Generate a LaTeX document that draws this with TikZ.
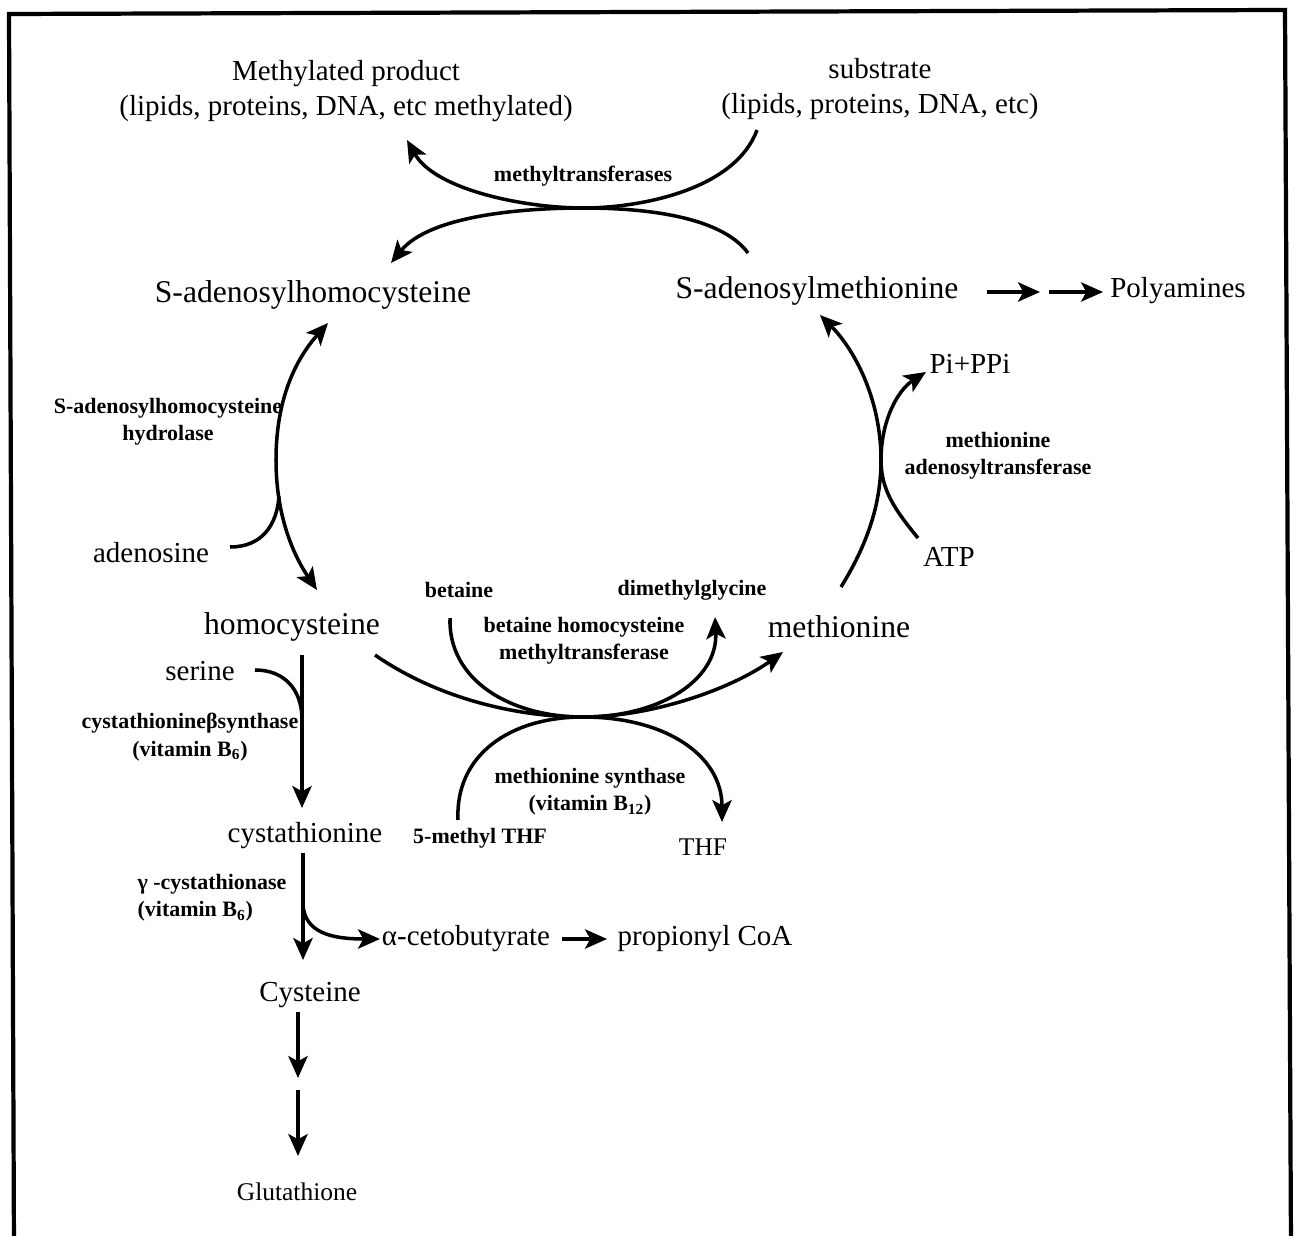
\documentclass[tikz,border=0pt]{standalone}
\usepackage{fontspec}
\setmainfont{Liberation Serif}
\usetikzlibrary{arrows.meta, positioning}

\tikzset{
  bigtext/.style={font=\fontsize{18}{21}\selectfont},
  midtext/.style={font=\fontsize{16.5}{19.5}\selectfont, align=center},
  smalltext/.style={font=\fontsize{14.5}{17}\selectfont},
  enztext/.style={font=\fontsize{12.5}{15.5}\selectfont\bfseries, align=center},
  tip/.style={Stealth[length=12.5pt, width=11pt, inset=3pt]},
  flow/.style={line width=2pt, -{Stealth[length=12.5pt, width=11pt, inset=3pt]}},
  bothway/.style={line width=2pt, {Stealth[length=12.5pt, width=11pt, inset=3pt]}-{Stealth[length=12.5pt, width=11pt, inset=3pt]}},
  plain/.style={line width=2pt}
}

\begin{document}
\begin{tikzpicture}[x=0.02cm, y=-0.02cm]
  \useasboundingbox (0,0) rectangle (1297,1236);
  \draw[line width=2.4pt] (14,1250) -- (9,14) -- (1285,10) -- (1291,1250);

  % methylation at the top
  \node[midtext] (methprod) at (346,91) {Methylated product\\(lipids, proteins, DNA, etc methylated)};
  \node[midtext] (substrate) at (880,89) {substrate\\(lipids, proteins, DNA, etc)};
  \node[enztext] (mtase) at (583,176) {methyltransferases};
  \node[bigtext] (sah) at (313,295) {S-adenosylhomocysteine};
  \node[bigtext] (sam) at (817,291) {S-adenosylmethionine};
  \node[midtext] (polyam) at (1178,291) {Polyamines};

  \node[midtext] (pippi) at (970,364) {Pi+PPi};
  \node[enztext] (mat) at (998,456) {methionine\\adenosyltransferase};
  \node[midtext] (atp) at (949,557) {ATP};
  \node[enztext] (sahh) at (168,422) {S-adenosylhomocysteine\\hydrolase};
  \node[midtext] (ado) at (151,553) {adenosine};

  \node[bigtext] (hcy) at (292,627) {homocysteine};
  \node[enztext] (betaine) at (459,590) {betaine};
  \node[enztext] (dmg) at (692,590) {dimethylglycine};
  \node[enztext] (bhmt) at (584,641) {betaine homocysteine\\methyltransferase};
  \node[bigtext] (met) at (839,627) {methionine};
  \node[enztext] (ms) at (590,792) {methionine synthase\\(vitamin B\textsubscript{12})};
  \node[enztext] (mthf) at (480,838) {5-methyl THF};
  \node[smalltext] (thf) at (703,847) {THF};

  % transsulfuration branch
  \node[midtext] (serine) at (200,671) {serine};
  \node[enztext] (cbs) at (190,737) {cystathionineβsynthase\\(vitamin B\textsubscript{6})};
  \node[midtext] (cysta) at (305,836) {cystathionine};
  \node[enztext, align=left] (cgl) at (212,898) {γ -cystathionase\\(vitamin B\textsubscript{6})};
  \node[midtext] (akb) at (466,939) {α-cetobutyrate};
  \node[midtext] (pcoa) at (705,939) {propionyl CoA};
  \node[midtext] (cys) at (310,995) {Cysteine};
  \node[smalltext] (gsh) at (297,1192) {Glutathione};

  \coordinate (kissA) at (583,208);
  \coordinate (kissB) at (583,717);
  \coordinate (adojoin) at (279,496);
  \coordinate (serjoin) at (302,717);
  \coordinate (cglsplit) at (303,905);
  \coordinate (polymid) at (1040,292);
  \coordinate (gshmid) at (298,1078);

  % methyltransferases
  \draw[flow] ([shift={(-123,41)}]substrate.center) .. controls (735,190) and (640,208) .. (kissA)
    .. controls (525,208) and (435,190) .. ([shift={(61,49)}]methprod.center);
  \draw[flow] ([shift={(-69,-38)}]sam.center) .. controls (720,215) and (640,208) .. (kissA)
    .. controls (525,208) and (430,215) .. ([shift={(78,-32)}]sah.center);

  % SAH <-> homocysteine
  \draw[bothway] ([shift={(25,-37)}]hcy.center) .. controls (290,550) and (276,510) .. (276,460)
    .. controls (276,400) and (295,360) .. ([shift={(15,28)}]sah.center);
  \draw[plain] ([shift={(79,-6)}]ado.center) .. controls (262,547) and (277,525) .. (adojoin);

  % methionine -> SAM
  \draw[flow] ([shift={(2,-40)}]met.center) .. controls (870,540) and (881,500) .. (881,460)
    .. controls (881,400) and (855,350) .. ([shift={(3,24)}]sam.center);
  \draw[flow] ([shift={(-31,-19)}]atp.center) .. controls (895,510) and (881,490) .. (881,460)
    .. controls (881,420) and (898,390) .. ([shift={(-44,8)}]pippi.center);
  \draw[flow] ([shift={(170,1)}]sam.center) -- (polymid);
  \draw[flow] ([shift={(9,0)}]polymid) -- ([shift={(-75,1)}]polyam.center);

  % remethylation of homocysteine
  \draw[flow] ([shift={(83,28)}]hcy.center) .. controls (440,700) and (520,717) .. (kissB)
    .. controls (650,717) and (730,690) .. ([shift={(-56,25)}]met.center);
  \draw[flow] ([shift={(-9,28)}]betaine.center) .. controls (448,680) and (510,717) .. (kissB)
    .. controls (660,717) and (718,680) .. ([shift={(23,27)}]dmg.center);
  \draw[flow] ([shift={(-22,-18)}]mthf.center) .. controls (455,755) and (510,717) .. (kissB)
    .. controls (665,717) and (722,755) .. ([shift={(19,-25)}]thf.center);

  % homocysteine -> cysteine -> glutathione
  \draw[flow] ([shift={(10,28)}]hcy.center) -- ([shift={(-3,-28)}]cysta.center);
  \draw[plain] ([shift={(55,-1)}]serine.center) .. controls (285,670) and (301,690) .. (serjoin);
  \draw[flow] ([shift={(-2,17)}]cysta.center) -- ([shift={(-7,-35)}]cys.center);
  \draw[flow] (cglsplit) .. controls (305,932) and (330,939) .. ([shift={(-86,0)}]akb.center);
  \draw[flow] ([shift={(96,0)}]akb.center) -- ([shift={(-98,0)}]pcoa.center);
  \draw[flow] ([shift={(-12,17)}]cys.center) -- (gshmid);
  \draw[flow] ([shift={(0,12)}]gshmid) -- ([shift={(1,-36)}]gsh.center);
\end{tikzpicture}
\end{document}
